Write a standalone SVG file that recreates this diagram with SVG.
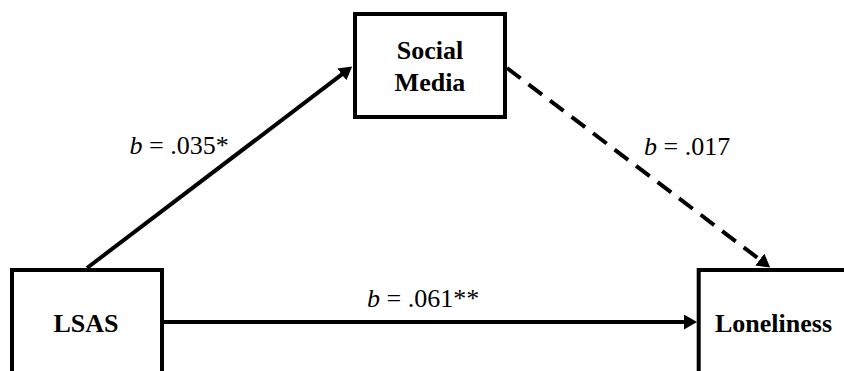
<svg xmlns="http://www.w3.org/2000/svg" width="844" height="371" viewBox="0 0 844 371">
<style>
.box{fill:#fff;stroke:#000;stroke-width:4}
.node{font-family:'Liberation Serif','Times New Roman',Tinos,'Noto Serif','DejaVu Serif',FreeSerif,serif;font-weight:bold;font-size:26px;fill:#000;text-anchor:middle}
.lbl{font-family:'Liberation Serif','Times New Roman',Tinos,'Noto Serif','DejaVu Serif',FreeSerif,serif;font-size:26px;fill:#000}
.edge{stroke:#000;stroke-width:4;fill:none}
</style>
<defs>
<marker id="ah" markerUnits="userSpaceOnUse" markerWidth="13" markerHeight="15" viewBox="0 0 13 15" refX="5" refY="7.5" orient="auto">
<path d="M0,0 L13,7.5 L0,15 z" fill="#000"/>
</marker>
</defs>
<rect width="844" height="371" fill="#fff"/>
<g id="connectors">
<line class="edge" x1="87" y1="268" x2="345.8" y2="71.4" marker-end="url(#ah)"/>
<line class="edge" x1="507" y1="68" x2="763.8" y2="262.6" stroke-dasharray="17,10" marker-end="url(#ah)"/>
<line class="edge" x1="164" y1="322" x2="689" y2="322" marker-end="url(#ah)"/>
</g>
<g id="social-media">
<rect class="box" x="355" y="14" width="150" height="103"/>
<text class="node" x="430" y="59">Social</text>
<text class="node" x="430" y="90.5">Media</text>
</g>
<g id="lsas">
<rect class="box" x="12" y="270" width="150" height="150"/>
<text class="node" x="86" y="331.5">LSAS</text>
</g>
<g id="loneliness">
<rect class="box" x="698.7" y="270" width="170" height="150"/>
<text class="node" x="773.5" y="331.5">Loneliness</text>
</g>
<g id="labels">
<text class="lbl" x="129.5" y="154"><tspan font-style="italic">b</tspan> = .035*</text>
<text class="lbl" x="644" y="155"><tspan font-style="italic">b</tspan> = .017</text>
<text class="lbl" x="367" y="306.5"><tspan font-style="italic">b</tspan> = .061**</text>
</g>
</svg>
